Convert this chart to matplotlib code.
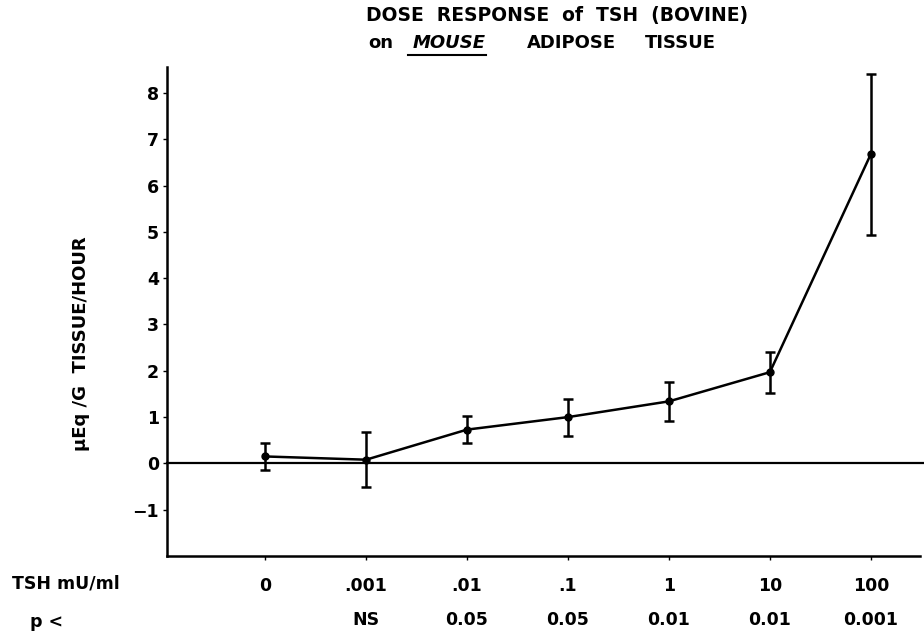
import matplotlib.pyplot as plt
from matplotlib.lines import Line2D
from matplotlib.transforms import blended_transform_factory

# data
dose_labels = ["0", ".001", ".01", ".1", "1", "10", "100"]
p_values = ["", "NS", "0.05", "0.05", "0.01", "0.01", "0.001"]
response = [0.15, 0.08, 0.73, 1.00, 1.34, 1.97, 6.68]
err = [0.29, 0.60, 0.29, 0.40, 0.42, 0.44, 1.74]

plt.rcParams["font.family"] = "DejaVu Sans"
plt.rcParams["font.weight"] = "bold"

W, H = 924, 635
fig = plt.figure(figsize=(W / 100, H / 100), dpi=100)
ax = fig.add_axes([0.181, 0.1244, 0.815, 0.770])

x = list(range(len(dose_labels)))
ax.errorbar(x, response, yerr=err, color="black", lw=1.8, elinewidth=1.8,
            capsize=3.5, capthick=1.8, marker="o", ms=5, zorder=3)
ax.axhline(0, color="black", lw=1.6, xmax=1.01, clip_on=False)

ax.set_xlim(-0.97, 6.49)
ax.set_ylim(-2.0, 8.56)
ax.set_yticks(range(-1, 9))
ax.set_yticklabels(["\u22121"] + [str(i) for i in range(0, 9)], fontsize=12.5, fontweight="bold")
ax.set_xticks(x)
ax.set_xticklabels(dose_labels, fontsize=12.5, fontweight="bold")
ax.tick_params(axis="y", direction="out", length=3, width=1, pad=3)
ax.tick_params(axis="x", direction="out", length=3, width=1, pad=12)

for s in ["top", "right"]:
    ax.spines[s].set_visible(False)
for s in ["left", "bottom"]:
    ax.spines[s].set_linewidth(1.8)

ax.set_ylabel("\u03bcEq /G  TISSUE/HOUR", fontsize=13, fontweight="bold")
ax.yaxis.set_label_coords(-0.103, 0.435)

# second row of labels: significance
tr = blended_transform_factory(ax.transData, fig.transFigure)
for xi, p in zip(x, p_values):
    ax.text(xi, 1 - 620 / H, p, transform=tr, ha="center", va="center",
            fontsize=12.5, fontweight="bold")

fig.text(12 / W, 1 - 583 / H, "TSH mU/ml", ha="left", va="center",
         fontsize=12.5, fontweight="bold")
fig.text(30 / W, 1 - 622 / H, "p <", ha="left", va="center",
         fontsize=12.5, fontweight="bold")

# title
fig.text(557 / W, 1 - 15 / H, "DOSE  RESPONSE  of  TSH  (BOVINE)",
         ha="center", va="center", fontsize=13.5, fontweight="bold")
fig.text(368 / W, 1 - 43 / H, "on", ha="left", va="center", fontsize=13, fontweight="bold")
mouse = fig.text(413 / W, 1 - 43 / H, "MOUSE", ha="left", va="center",
                 fontsize=13, fontweight="bold", style="italic")
fig.text(527 / W, 1 - 43 / H, "ADIPOSE", ha="left", va="center",
         fontsize=13, fontweight="bold")
fig.text(645 / W, 1 - 43 / H, "TISSUE", ha="left", va="center",
         fontsize=13, fontweight="bold")

fig.canvas.draw()
bb = mouse.get_window_extent().transformed(fig.transFigure.inverted())
fig.add_artist(Line2D([bb.x0 - 0.005, bb.x1], [bb.y0 - 0.004, bb.y0 - 0.004],
                      color="black", lw=1.5, transform=fig.transFigure))

fig.savefig("out.png", dpi=100, facecolor="white")
